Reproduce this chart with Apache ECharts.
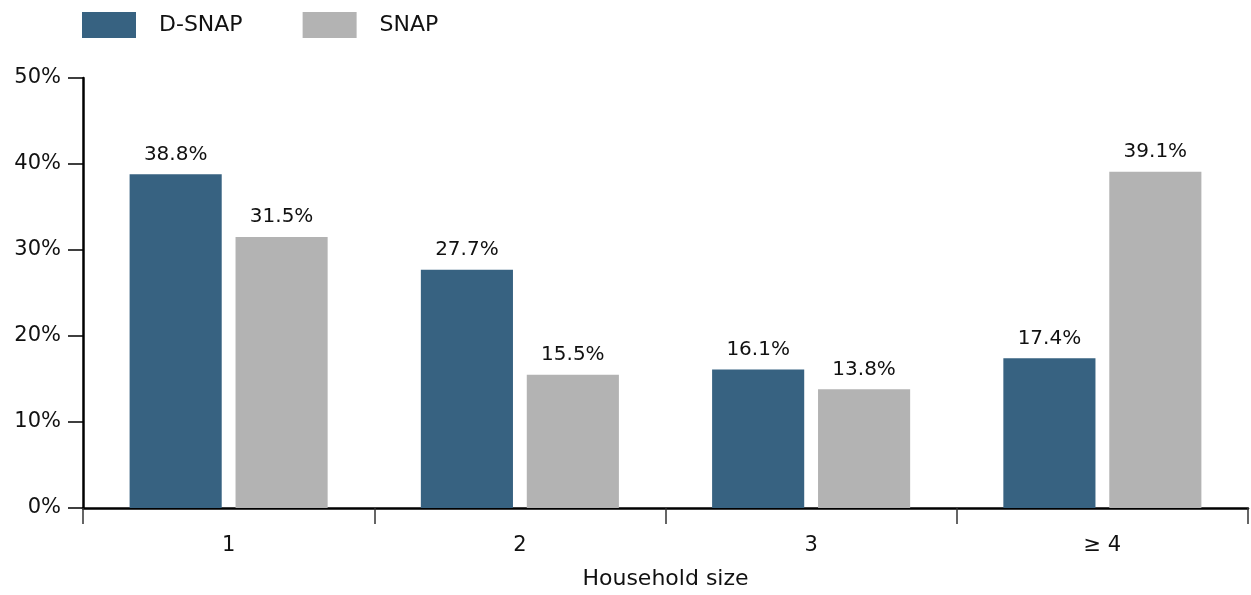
<!DOCTYPE html>
<html>
<head>
<meta charset="utf-8">
<script src="https://cdn.jsdelivr.net/npm/echarts@6/dist/echarts.min.js"></script>
<style>
  html, body { margin: 0; padding: 0; background: #fff; }
  #chart { width: 1251px; height: 595px; }
</style>
</head>
<body>
<div id="chart"></div>
<script>
// household size categories
var categories = ['1', '2', '3', '≥ 4'];
var dsnapValues = [38.8, 27.7, 16.1, 17.4];
var snapValues = [31.5, 15.5, 13.8, 39.1];

var font = 'DejaVu Sans';

var myChart = echarts.init(document.getElementById('chart'));
myChart.setOption({
    animation: false,
    textStyle: { fontFamily: font },
    legend: {
        left: 77,
        top: 7,
        itemWidth: 54,
        itemHeight: 26,
        itemGap: 60,
        icon: 'rect',
        textStyle: {
            fontFamily: font,
            fontSize: 22,
            color: '#111',
            padding: [0, 0, 0, 18]
        },
        data: ['D-SNAP', 'SNAP']
    },
    grid: {
        left: 83,
        right: 3,
        top: 78,
        bottom: 87,
        containLabel: false,
        outerBoundsMode: 'none'
    },
    xAxis: {
        type: 'category',
        data: categories,
        name: 'Household size',
        nameLocation: 'middle',
        nameGap: 60,
        nameTextStyle: { fontFamily: font, fontSize: 22, color: '#111' },
        axisLine: { lineStyle: { color: '#000', width: 2.5 } },
        axisTick: { show: true, length: 16, lineStyle: { color: '#333', width: 1.5 } },
        axisLabel: { fontFamily: font, fontSize: 21, color: '#111', margin: 27 }
    },
    yAxis: {
        type: 'value',
        min: 0,
        max: 50,
        interval: 10,
        axisLine: { show: true, lineStyle: { color: '#000', width: 2.5 } },
        axisTick: { show: true, length: 15, lineStyle: { color: '#000', width: 1.5 } },
        splitLine: { show: false },
        axisLabel: {
            fontFamily: font,
            fontSize: 21,
            color: '#111',
            margin: 22,
            formatter: '{value}%'
        }
    },
    series: [
        {
            name: 'D-SNAP',
            type: 'bar',
            data: dsnapValues,
            barGap: '15%',
            barCategoryGap: '32%',
            itemStyle: { color: '#376281' },
            label: {
                show: true,
                position: 'top',
                distance: 10,
                fontFamily: font,
                fontSize: 20,
                color: '#111',
                formatter: '{c}%'
            }
        },
        {
            name: 'SNAP',
            type: 'bar',
            data: snapValues,
            itemStyle: { color: '#b3b3b3' },
            label: {
                show: true,
                position: 'top',
                distance: 10,
                fontFamily: font,
                fontSize: 20,
                color: '#111',
                formatter: '{c}%'
            }
        }
    ]
});
</script>
</body>
</html>
